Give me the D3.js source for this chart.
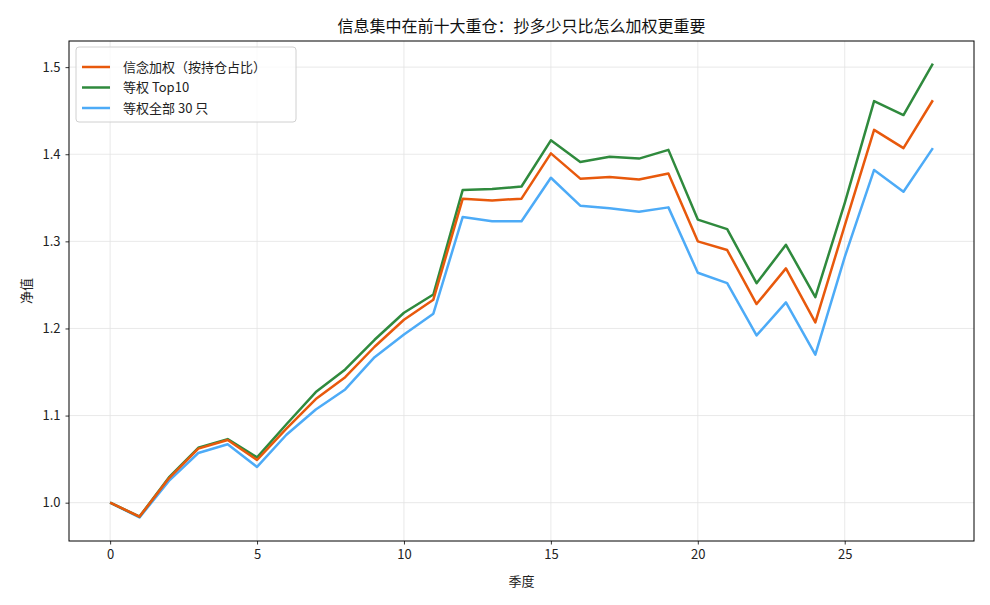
<!DOCTYPE html>
<meta charset="utf-8">
<style>
body { margin: 0; background: #fff; }
text { font-family: "Noto Sans CJK SC", "Noto Sans", sans-serif; }
</style>
<svg id="mysvg" width="990" height="605"></svg>
<script src="https://cdn.jsdelivr.net/npm/d3@7"></script>
<script>

var quarters = d3.range(29);
var conviction = [1.000,0.984,1.028,1.062,1.072,1.049,1.085,1.119,1.144,1.179,1.210,1.233,1.349,1.347,1.349,1.401,1.372,1.374,1.371,1.378,1.300,1.290,1.228,1.269,1.207,1.318,1.428,1.407,1.462];
var equalTop10 = [1.000,0.984,1.029,1.063,1.073,1.052,1.090,1.127,1.153,1.187,1.218,1.239,1.359,1.360,1.363,1.416,1.391,1.397,1.395,1.405,1.325,1.314,1.252,1.296,1.236,1.344,1.461,1.445,1.504];
var equalAll = [1.000,0.983,1.025,1.057,1.067,1.041,1.078,1.107,1.130,1.167,1.193,1.217,1.328,1.323,1.323,1.373,1.341,1.338,1.334,1.339,1.264,1.252,1.192,1.230,1.170,1.282,1.382,1.357,1.407];
var seriesNames = ["信念加权（按持仓占比）", "等权 Top10", "等权全部 30 只"];
var colors = ["#e8590c", "#2f8a3d", "#4dabf7"];
var xTicks = [0, 5, 10, 15, 20, 25];
var yTicks = [1.0, 1.1, 1.2, 1.3, 1.4, 1.5];

var svg = d3.select("#mysvg");
var pLeft = 69, pRight = 974, pTop = 41, pBottom = 541;

var x = d3.scaleLinear().domain([-1.4, 29.4]).range([pLeft, pRight]);
var y = d3.scaleLinear().domain([0.956, 1.530]).range([pBottom, pTop]);

// grid
svg.append("g").selectAll("line").data(xTicks).enter().append("line")
	.attr("x1", function(d){ return x(d); }).attr("x2", function(d){ return x(d); })
	.attr("y1", pTop).attr("y2", pBottom)
	.attr("stroke", "#e3e3e3").attr("stroke-width", 0.8);
svg.append("g").selectAll("line").data(yTicks).enter().append("line")
	.attr("x1", pLeft).attr("x2", pRight)
	.attr("y1", function(d){ return y(d); }).attr("y2", function(d){ return y(d); })
	.attr("stroke", "#e3e3e3").attr("stroke-width", 0.8);

// axes
var xAxis = svg.append("g").attr("transform", "translate(0," + pBottom + ")")
	.call(d3.axisBottom(x).tickValues(xTicks).tickSize(3.5).tickPadding(5).tickFormat(d3.format("d")));
var yAxis = svg.append("g").attr("transform", "translate(" + pLeft + ",0)")
	.call(d3.axisLeft(y).tickValues(yTicks).tickSize(3.5).tickPadding(5).tickFormat(d3.format(".1f")));
[xAxis, yAxis].forEach(function(a){
	a.select(".domain").remove();
	a.selectAll("text").attr("font-size", 13).attr("fill", "#222")
		.attr("font-family", "'Noto Sans CJK SC', sans-serif");
	a.selectAll("line").attr("stroke", "#000").attr("stroke-width", 0.8);
});

// series
var all = [conviction, equalTop10, equalAll];
var line = d3.line().x(function(d, i){ return x(quarters[i]); }).y(function(d){ return y(d); });
[2, 1, 0].forEach(function(k){
	svg.append("path").datum(all[k])
		.attr("d", line)
		.attr("fill", "none")
		.attr("stroke", colors[k])
		.attr("stroke-width", 2.5)
		.attr("stroke-linejoin", "round");
});

// frame
svg.append("rect").attr("x", pLeft).attr("y", pTop)
	.attr("width", pRight - pLeft).attr("height", pBottom - pTop)
	.attr("fill", "none").attr("stroke", "#000").attr("stroke-width", 1);

// labels
svg.append("text").attr("x", (pLeft + pRight) / 2).attr("y", 32)
	.attr("text-anchor", "middle").attr("font-size", 16).attr("fill", "#111")
	.text("信息集中在前十大重仓：抄多少只比怎么加权更重要");
svg.append("text").attr("x", (pLeft + pRight) / 2).attr("y", 586)
	.attr("text-anchor", "middle").attr("font-size", 13).attr("fill", "#222")
	.text("季度");
svg.append("text").attr("transform", "translate(31," + (pTop + pBottom) / 2 + ") rotate(-90)")
	.attr("text-anchor", "middle").attr("font-size", 13).attr("fill", "#222")
	.text("净值");

// legend
var lg = svg.append("g").attr("transform", "translate(76,47)");
lg.append("rect").attr("width", 220).attr("height", 75).attr("rx", 3)
	.attr("fill", "#fff").attr("fill-opacity", 0.8)
	.attr("stroke", "#d0d0d0").attr("stroke-width", 1);
seriesNames.forEach(function(n, i){
	var yy = 20 + i * 20.5;
	lg.append("line").attr("x1", 6).attr("x2", 34).attr("y1", yy).attr("y2", yy)
		.attr("stroke", colors[i]).attr("stroke-width", 2.5);
	lg.append("text").attr("x", 47).attr("y", yy + 4.5)
		.attr("font-size", 13).attr("fill", "#222").text(n);
});

</script>
